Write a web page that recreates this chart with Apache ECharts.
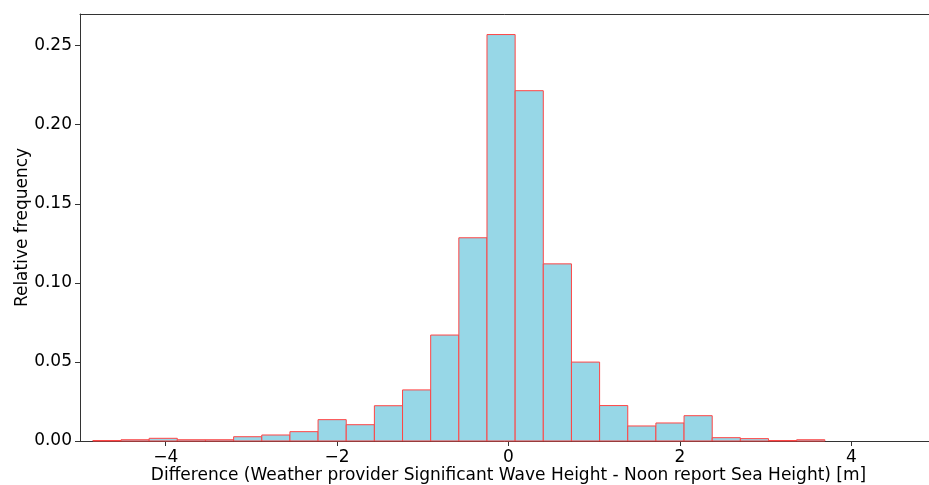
<!DOCTYPE html>
<html>
<head>
<meta charset="utf-8">
<script src="https://cdn.jsdelivr.net/npm/echarts@6/dist/echarts.min.js"></script>
<style>
  html, body { margin: 0; padding: 0; background: #fff; }
  #chart { width: 929px; height: 485px; }
</style>
</head>
<body>
<div id="chart"></div>
<script>
// histogram bins (left edges, width) and relative frequencies
var binStart = -4.85;
var binWidth = 0.3285;
var freq = [0.0003, 0.0008, 0.0017, 0.0008, 0.0008, 0.0027, 0.0038, 0.0059, 0.0135, 0.0103,
            0.0223, 0.0323, 0.0670, 0.1285, 0.2570, 0.2215, 0.1120, 0.0499, 0.0224, 0.0095,
            0.0114, 0.0160, 0.0021, 0.0015, 0.0003, 0.0008];
var xTicks = [-4, -2, 0, 2, 4];
var yTicks = [0, 0.05, 0.10, 0.15, 0.20, 0.25];

var bins = [];
for (var i = 0; i < freq.length; i++) {
	bins.push([binStart + i * binWidth, binStart + (i + 1) * binWidth, freq[i]]);
}

var font = 'DejaVu Sans';
var myChart = echarts.init(document.getElementById('chart'));
var option = {
	animation: false,
	grid: { left: 80, right: -8, top: 14, bottom: 44, outerBoundsMode: 'none', containLabel: false },
	xAxis: [{
		type: 'value',
		min: -5, max: 5,
		name: 'Difference (Weather provider Significant Wave Height - Noon report Sea Height) [m]',
		nameLocation: 'middle',
		nameGap: 26,
		nameMoveOverlap: false,
		nameTextStyle: { fontFamily: font, fontSize: 17, color: '#000' },
		axisLine: { onZero: false, lineStyle: { color: '#333', width: 1 } },
		axisTick: { show: true, length: 5, customValues: xTicks, lineStyle: { color: '#333' } },
		axisLabel: {
			customValues: xTicks, margin: 8,
			fontFamily: font, fontSize: 17, color: '#000',
			formatter: function (v) { return String(v).replace('-', '\u2212'); }
		},
		splitLine: { show: false }
	}, {
		type: 'value', position: 'top',
		min: -5, max: 5,
		axisLine: { show: true, onZero: false, lineStyle: { color: '#333', width: 1 } },
		axisTick: { show: false },
		axisLabel: { show: false },
		splitLine: { show: false }
	}],
	yAxis: {
		type: 'value',
		min: 0, max: 0.27,
		name: 'Relative frequency',
		nameLocation: 'middle',
		nameGap: 49,
		nameMoveOverlap: false,
		nameTextStyle: { fontFamily: font, fontSize: 17, color: '#000' },
		axisLine: { show: true, onZero: false, lineStyle: { color: '#333', width: 1 } },
		axisTick: { show: true, length: 5, customValues: yTicks, lineStyle: { color: '#333' } },
		axisLabel: {
			customValues: yTicks, margin: 8,
			fontFamily: font, fontSize: 17, color: '#000',
			formatter: function (v) { return v.toFixed(2); }
		},
		splitLine: { show: false }
	},
	series: [{
		type: 'custom',
		xAxisIndex: 0,
		data: bins,
		encode: { x: [0, 1], y: 2 },
		renderItem: function (params, api) {
			var p0 = api.coord([api.value(0), api.value(2)]);
			var p1 = api.coord([api.value(1), 0]);
			return {
				type: 'rect',
				shape: { x: p0[0], y: p0[1], width: p1[0] - p0[0], height: p1[1] - p0[1] },
				style: { fill: '#97d7e7', stroke: '#ff4545', lineWidth: 1 }
			};
		}
	}]
};
myChart.setOption(option);
</script>
</body>
</html>
